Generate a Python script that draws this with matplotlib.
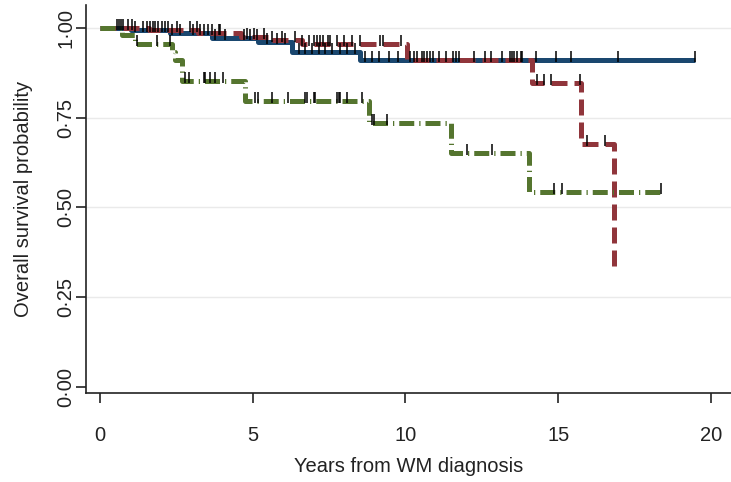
import numpy as np
import matplotlib
matplotlib.use("Agg")
import matplotlib.pyplot as plt
from matplotlib.path import Path

# ---- data ----
blue_times = [0.0, 1.0, 2.3, 3.66, 5.18, 6.28, 8.52]
blue_surv = [1.0, 0.994, 0.985, 0.973, 0.960, 0.934, 0.911]
blue_cens = [0.55, 0.63, 0.74, 0.93, 1.15, 1.42, 1.53, 1.73, 1.91, 2.13, 2.35, 2.62,
             3.06, 3.28, 3.55, 3.77, 4.1, 4.7, 4.92, 5.14, 5.46, 5.79, 6.07, 6.5,
             6.72, 6.94, 7.16, 7.38, 7.6, 7.87, 8.09, 8.36, 8.69, 8.9, 9.13, 9.45,
             9.75, 10.16, 10.38, 10.62, 10.82, 11.09, 11.34, 11.64, 12.24, 12.62,
             13.17, 13.5, 13.66, 13.83, 14.26, 14.92, 15.43, 16.96, 19.48]

red_times = [0.0, 1.6, 3.2, 4.6, 5.6, 6.6, 10.06, 14.15, 15.74, 16.82]
red_surv = [1.0, 0.993, 0.985, 0.976, 0.966, 0.955, 0.911, 0.846, 0.677, 0.338]
red_cens = [0.7, 1.05, 1.64, 1.8, 2.02, 2.24, 2.51, 2.95, 3.17, 3.39, 3.66, 3.88,
            3.93, 4.81, 5.03, 5.36, 5.63, 5.96, 6.39, 6.61, 6.83, 7.0, 7.1, 7.19,
            7.3, 7.45, 7.52, 7.76, 7.98, 8.25, 8.52, 9.18, 9.27, 9.84, 10.27, 10.55,
            10.71, 10.91, 11.56, 11.75, 12.79, 13.41, 13.57, 13.77, 14.32, 14.53,
            14.75, 15.72, 15.96, 16.52]

green_times = [0.0, 0.71, 1.15, 2.35, 2.46, 2.68, 4.75, 8.82, 11.48, 14.03]
green_surv = [1.0, 0.98, 0.955, 0.934, 0.911, 0.852, 0.797, 0.735, 0.652, 0.544]
green_cens = [1.2, 1.86, 2.3, 2.79, 2.9, 3.39, 3.44, 3.61, 3.77, 4.04, 5.08, 5.16,
              5.63, 6.17, 6.72, 6.78, 7.0, 7.05, 7.76, 7.81, 7.87, 8.09, 8.58, 8.9,
              8.97, 9.4, 12.02, 12.84, 14.86, 15.14, 18.36]

x_ticks = [0, 5, 10, 15, 20]
y_ticks = [0.0, 0.25, 0.5, 0.75, 1.0]
y_ticklabels = ["0·00", "0·25", "0·50", "0·75", "1·00"]

NAVY = "#1a476f"
MAROON = "#90353b"
GREEN = "#55752f"

FS = 14.5
plt.rcParams["font.family"] = ["Liberation Sans", "DejaVu Sans"]

fig = plt.figure(figsize=(7.31, 4.82), dpi=100)
ax = fig.add_axes([0.1176, 0.1846, 0.882, 0.805])

for y in [0.25, 0.5, 0.75, 1.0]:
    ax.axhline(y, color="#eaeaea", lw=1.0, zorder=0)

tick_marker = Path([[0, -0.2], [0, 1.0]], [Path.MOVETO, Path.LINETO])


def draw(times, surv, cens, color, ls, z):
    t = np.asarray(times, float)
    s = np.asarray(surv, float)
    c = np.asarray(cens, float)
    end = max(t[-1], c.max())
    tt = np.append(t, end)
    ss = np.append(s, s[-1])
    ax.step(tt, ss, where="post", color=color, lw=3.6, ls=ls,
            solid_capstyle="butt", dash_capstyle="butt", zorder=z)
    idx = np.searchsorted(t, c, side="right") - 1
    ax.plot(c, s[idx], ls="none", marker=tick_marker, ms=13, mew=1.1,
            mec="black", mfc="black", zorder=10)


draw(blue_times, blue_surv, blue_cens, NAVY, "-", 3)
draw(red_times, red_surv, red_cens, MAROON, (0, (3.2, 1.4)), 4)
draw(green_times, green_surv, green_cens, GREEN, (0, (3.0, 1.0, 0.25, 1.0)), 5)

ax.set_xlim(-0.46, 20.65)
ax.set_ylim(-0.017, 1.064)
ax.set_xticks(x_ticks)
ax.set_yticks(y_ticks)
ax.set_yticklabels(y_ticklabels, rotation=90, va="center")
ax.spines["top"].set_visible(False)
ax.spines["right"].set_visible(False)
for sp in ("left", "bottom"):
    ax.spines[sp].set_linewidth(1.2)
    ax.spines[sp].set_color("#222222")
ax.tick_params(axis="both", labelsize=FS, colors="#222222", width=1.2, length=7.5)
ax.tick_params(axis="x", pad=16)
ax.tick_params(axis="y", pad=0)
ax.set_xlabel("Years from WM diagnosis", fontsize=FS, color="#222222", labelpad=9)
ax.set_ylabel("Overall survival probability", fontsize=FS, color="#222222", labelpad=17)

fig.savefig("out.png", dpi=100)
